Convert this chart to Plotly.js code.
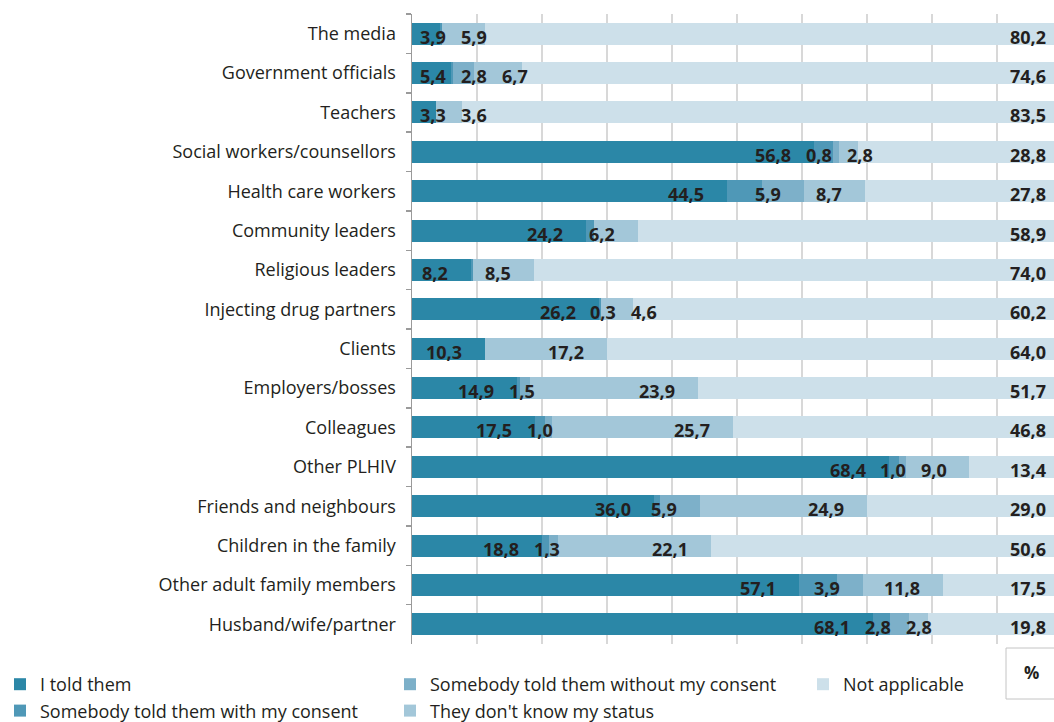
<!DOCTYPE html>
<html>
<head>
<meta charset="utf-8">
<script src="https://cdn.plot.ly/plotly-3.0.1.min.js"></script>
<style>
  html, body { margin: 0; padding: 0; background: #ffffff; }
  #chart { width: 1054px; height: 722px; }
</style>
</head>
<body>
<div id="chart"></div>
<script>
// ---- Data (top row first) ----
const categories = [
  "The media", "Government officials", "Teachers", "Social workers/counsellors",
  "Health care workers", "Community leaders", "Religious leaders", "Injecting drug partners",
  "Clients", "Employers/bosses", "Colleagues", "Other PLHIV",
  "Friends and neighbours", "Children in the family", "Other adult family members", "Husband/wife/partner"
];
const seriesNames = [
  "I told them",
  "Somebody told them with my consent",
  "Somebody told them without my consent",
  "They don't know my status",
  "Not applicable"
];
const toldThem       = [3.9, 5.4, 3.3, 56.8, 44.5, 24.2, 8.2, 26.2, 10.3, 14.9, 17.5, 68.4, 36.0, 18.8, 57.1, 68.1];
const withConsent    = [0.3, 0.3, 0.0, 2.7, 5.0, 1.1, 0.4, 0.3, 0.0, 0.4, 1.4, 1.5, 1.0, 1.0, 5.5, 2.5];
const withoutConsent = [0.0, 2.8, 0.0, 0.8, 5.9, 0.0, 0.0, 0.0, 0.0, 1.5, 1.0, 1.0, 5.9, 1.3, 3.9, 2.8];
const dontKnow       = [5.9, 6.7, 3.6, 2.8, 8.7, 6.2, 8.5, 4.6, 17.2, 23.9, 25.7, 9.0, 24.9, 22.1, 11.8, 2.8];
const notApplicable  = [80.2, 74.6, 83.5, 28.8, 27.8, 58.9, 74.0, 60.2, 64.0, 51.7, 46.8, 13.4, 29.0, 50.6, 17.5, 19.8];
// which "with my consent" values carry a printed label in the source
const withConsentLabelled = [false, false, false, false, false, false, false, true,
                             false, false, false, false, false, false, false, false];
const unitLabel = "%";

// ---- Styling ----
const seriesValues = [toldThem, withConsent, withoutConsent, dontKnow, notApplicable];
const seriesColors = ["#2b87a7", "#4f98b7", "#7db0c9", "#a3c7d9", "#cde0ea"];
const legendIds = ["legend", "legend", "legend2", "legend2", "legend3"];
const textColor = "#231f20";
const FONT = "Open Sans, Noto Sans, Liberation Sans, sans-serif";

const W = 1054, H = 722;
const ML = 412, MR = 0, MT = 14, MB = 78;
const PX_PER_UNIT = 6.5;
const plotH = H - MT - MB, plotW = W - ML - MR;
const xMax = plotW / PX_PER_UNIT;
const LABEL_SIZE = 18;

const traces = seriesNames.map((name, s) => ({
  type: "bar",
  orientation: "h",
  name: name,
  y: categories,
  x: seriesValues[s],
  marker: { color: seriesColors[s], line: { width: 0 } },
  legend: legendIds[s],
  hovertemplate: "%{y}<br>" + name + ": %{x:.1f}<extra></extra>"
}));

function fmt(v) { return v.toFixed(1).replace(".", ","); }
function textW(str) {
  let w = 0;
  for (const ch of str) w += (ch === ",") ? 0.3 * LABEL_SIZE : 0.57 * LABEL_SIZE;
  return w;
}

const annotations = [];
const GAP = 15, PAD = 21;
categories.forEach((cat, r) => {
  const total = seriesValues.reduce((a, arr) => a + arr[r], 0);
  let cum = 0;
  let prevRight = ML + 10 - GAP;
  seriesValues.forEach((arr, s) => {
    const v = arr[r];
    cum += v;
    const labelled = (s === 1) ? withConsentLabelled[r] : v > 0;
    if (!labelled) return;
    const str = fmt(v);
    const w = textW(str);
    const endPx = ML + (cum / total * 100) * PX_PER_UNIT;
    const desired = (s === 4) ? Math.min(endPx - 14, W - 6) : endPx - PAD;
    const right = Math.max(desired, prevRight + GAP + w);
    prevRight = right;
    annotations.push({
      xref: "x", yref: "y",
      x: (right - ML) / PX_PER_UNIT, y: cat,
      xanchor: "right", yanchor: "middle",
      yshift: -3,
      text: str, showarrow: false,
      font: { family: FONT, size: LABEL_SIZE, color: textColor, weight: 700 }
    });
  });
});

// "%" unit box
function px2paperX(px) { return (px - ML) / plotW; }
function px2paperY(py) { return (H - MB - py) / plotH; }
annotations.push({
  xref: "paper", yref: "paper",
  x: px2paperX(1031), y: px2paperY(672),
  xanchor: "center", yanchor: "middle",
  text: unitLabel, showarrow: false,
  font: { family: FONT, size: 17, color: textColor, weight: 700 }
});

const legendCommon = {
  orientation: "v",
  xref: "paper", yref: "container",
  xanchor: "left", yanchor: "top",
  bgcolor: "rgba(0,0,0,0)",
  borderwidth: 0,
  font: { family: FONT, size: 18, color: textColor },
  tracegroupgap: 0,
  itemwidth: 30,
  traceorder: "normal"
};
const legendTop = 1 - 666 / H;

const layout = {
  width: W, height: H,
  margin: { l: ML, r: MR, t: MT, b: MB, pad: 0 },
  paper_bgcolor: "#ffffff",
  plot_bgcolor: "#ffffff",
  barmode: "stack",
  barnorm: "percent",
  bargap: 0.44,
  showlegend: true,
  font: { family: FONT, size: 18, color: textColor },
  xaxis: {
    range: [0, xMax],
    dtick: 10, tick0: 0,
    showgrid: true, gridcolor: "#d8d8d8", gridwidth: 1.5,
    showticklabels: false, ticks: "",
    zeroline: false, showline: false,
    fixedrange: true
  },
  yaxis: {
    type: "category",
    categoryorder: "array", categoryarray: categories,
    autorange: "reversed",
    showline: true, linecolor: "#9a9a9a", linewidth: 1.5,
    ticks: "outside", ticklen: 5, tickcolor: "#9a9a9a", tickwidth: 1.5,
    tickson: "boundaries",
    ticklabelstandoff: 11,
    showgrid: false, zeroline: false,
    automargin: false,
    tickfont: { family: FONT, size: 18, color: textColor },
    fixedrange: true
  },
  legend:  Object.assign({}, legendCommon, { x: px2paperX(-5),  y: legendTop }),
  legend2: Object.assign({}, legendCommon, { x: px2paperX(390), y: legendTop }),
  legend3: Object.assign({}, legendCommon, { x: px2paperX(803), y: legendTop }),
  shapes: [{
    type: "rect", xref: "paper", yref: "paper",
    x0: px2paperX(1006), x1: px2paperX(1062),
    y0: px2paperY(648), y1: px2paperY(699),
    line: { color: "#c4c4c4", width: 1 },
    fillcolor: "rgba(0,0,0,0)"
  }],
  annotations: annotations
};

Plotly.newPlot("chart", traces, layout, { displayModeBar: false, staticPlot: true });
</script>
</body>
</html>
